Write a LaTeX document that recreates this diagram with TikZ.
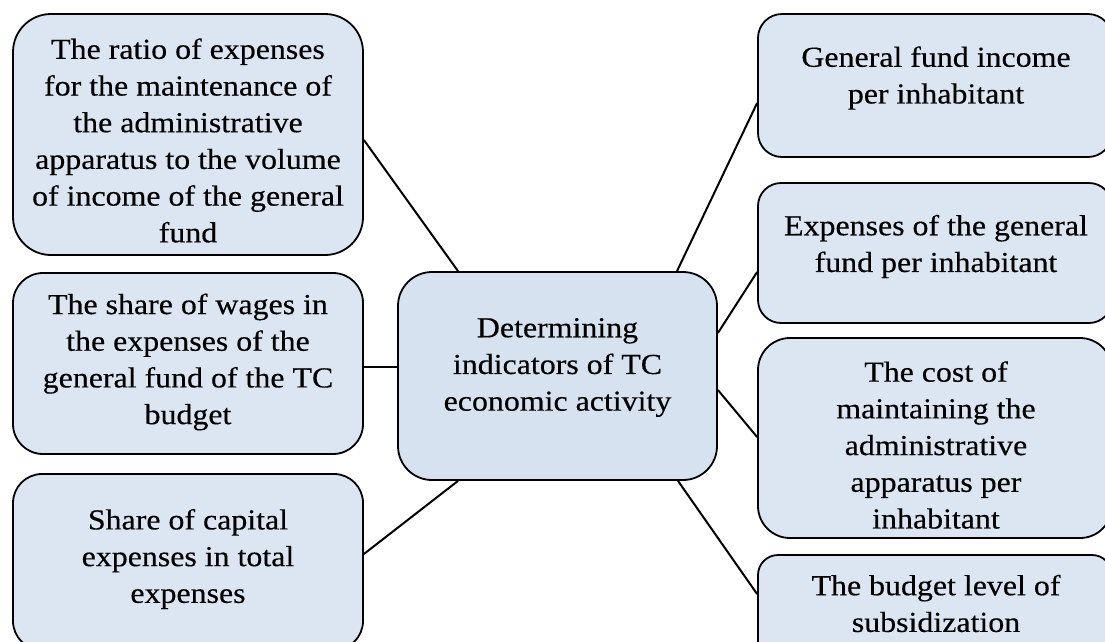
\documentclass[tikz,border=0pt]{standalone}
\usepackage{fontspec}
\setmainfont{Liberation Serif}[FakeStretch=1.1, FakeBold=0.35]
\usetikzlibrary{calc}
\definecolor{boxfill}{HTML}{DCE6F2}
\definecolor{hubfill}{HTML}{D6E2EF}
\tikzset{
  card/.style={draw=black, line width=1.8pt, fill=boxfill, rectangle,
    inner sep=0pt, minimum width=#1},
  card/.default=350pt,
  label text/.style={font=\fontsize{29}{36.7}\selectfont, align=center,
    inner sep=0pt, text=black},
  link/.style={draw=black, line width=2pt}
}
\begin{document}
\begin{tikzpicture}[x=1pt, y=-1pt]
\useasboundingbox (0,0) rectangle (1105,641);
\clip (0,0) rectangle (1105,641);

% left column
\node[card, minimum height=241pt, rounded corners=38pt] (L1) at (188,134.5) {};
\node[card, minimum height=181pt, rounded corners=30pt] (L2) at (188,363.5) {};
\node[card, minimum height=176pt, rounded corners=29pt] (L3) at (188,562) {};

% central node
\node[card=319pt, fill=hubfill, minimum height=208pt, rounded corners=34pt] (C) at (557.5,376) {};

% right column
\node[card=354pt, minimum height=143pt, rounded corners=24pt] (R1) at (935,85.5) {};
\node[card=354pt, minimum height=140pt, rounded corners=23pt] (R2) at (935,253) {};
\node[card=354pt, minimum height=200pt, rounded corners=32pt] (R3) at (935,438) {};
\node[card=354pt, minimum height=120pt, rounded corners=20pt] (R4) at (935,615) {};

% texts
\node[label text] (L1t) at (188,140.5) {The ratio of expenses\\for the maintenance of\\the administrative\\apparatus to the volume\\of income of the general\\fund};
\node[label text] (L2t) at (188,362) {The share of wages in\\the expenses of the\\general fund of the TC\\budget};
\node[label text] (L3t) at (188,559) {Share of capital\\expenses in total\\expenses};
\node[label text] (Ct) at (557.5,367.5) {Determining\\indicators of TC\\economic activity};
\node[label text] (R1t) at (936,78) {General fund income\\per inhabitant};
\node[label text] (R2t) at (936,246.5) {Expenses of the general\\fund per inhabitant};
\node[label text] (R3t) at (936,445) {The cost of\\maintaining the\\administrative\\apparatus per\\inhabitant};
\node[label text] (R4t) at (936,603.5) {The budget level of\\subsidization};

% connectors
\draw[link] ($(L1.east)+(0,5.5)$) -- ($(C.north)+(-99.5,0)$);
\draw[link] ($(L2.east)+(0,3.5)$) -- ($(C.west)+(0,-9)$);
\draw[link] ($(L3.east)+(0,-8)$) -- ($(C.south)+(-99.5,0)$);
\draw[link] ($(R1.west)+(0,17.5)$) -- ($(C.north)+(119.5,0)$);
\draw[link] ($(R2.west)+(0,19)$) -- ($(C.east)+(0,-43)$);
\draw[link] ($(C.east)+(0,14)$) -- ($(R3.west)+(0,-1)$);
\draw[link] ($(C.south)+(120.5,0)$) -- ($(R4.west)+(0,-21)$);
\end{tikzpicture}
\end{document}
